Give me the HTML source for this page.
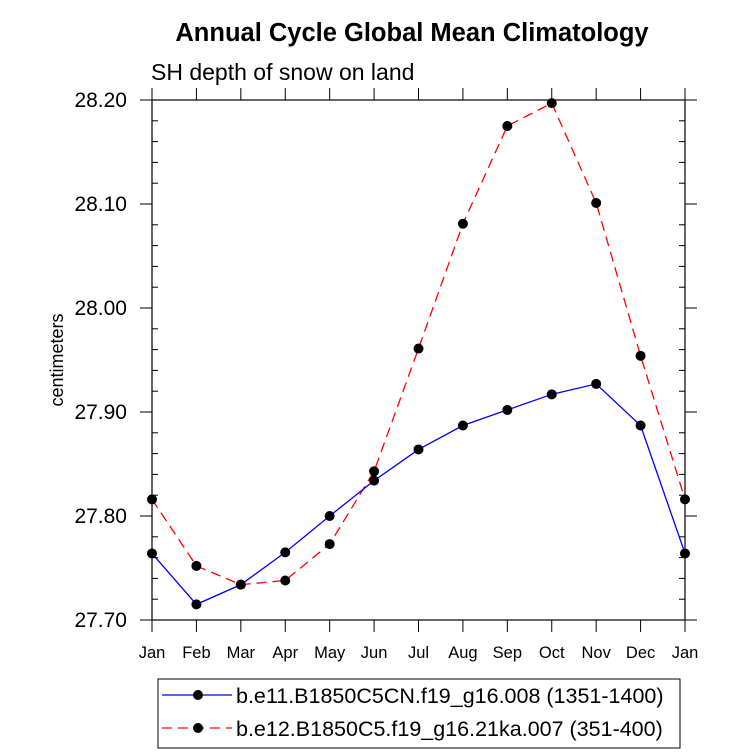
<!DOCTYPE html>
<html><head><meta charset="utf-8"><style>
body{margin:0;background:#fff}
svg{display:block;font-family:"Liberation Sans",sans-serif}
</style></head><body>
<svg id="c" width="733" height="754">
<text x="412" y="41" text-anchor="middle" font-size="25.5" font-weight="bold">Annual Cycle Global Mean Climatology</text>
<text x="151" y="80" font-size="23">SH depth of snow on land</text>
<text transform="translate(63,360) rotate(-90)" text-anchor="middle" font-size="18">centimeters</text>
<g id="ax"></g>
<g id="marks"></g>
<rect x="158" y="679" width="522" height="69" fill="none" stroke="#000" stroke-width="1"/>
<g>
<line x1="162" y1="695" x2="232" y2="695" stroke="#0000ff" stroke-width="1.3"/>
<circle cx="198" cy="695" r="5" fill="#000"/>
<text x="236" y="703" font-size="21.5">b.e11.B1850C5CN.f19_g16.008 (1351-1400)</text>
</g>
<g>
<line x1="162" y1="728" x2="232" y2="728" stroke="#ff0000" stroke-width="1.3" stroke-dasharray="10,6"/>
<circle cx="198" cy="728" r="5" fill="#000"/>
<text x="236" y="736" font-size="21.5">b.e12.B1850C5.f19_g16.21ka.007 (351-400)</text>
</g>
</svg>
<script>
const months=["Jan","Feb","Mar","Apr","May","Jun","Jul","Aug","Sep","Oct","Nov","Dec","Jan"];
const blueVals=[27.764,27.715,27.734,27.765,27.800,27.834,27.864,27.887,27.902,27.917,27.927,27.887,27.764];
const redVals=[27.816,27.752,27.734,27.738,27.773,27.843,27.961,28.081,28.175,28.197,28.101,27.954,27.816];
const yTicks=[27.70,27.80,27.90,28.00,28.10,28.20];
const L=152,R=685,T=100,B=620,Y0=27.70,Y1=28.20;
const xs=i=>L+(R-L)*i/12;
const ys=v=>B-(v-Y0)/(Y1-Y0)*(B-T);
const NS="http://www.w3.org/2000/svg";
function mk(p,t,a){const e=document.createElementNS(NS,t);for(const k in a)e.setAttribute(k,a[k]);p.appendChild(e);return e;}
const ax=document.getElementById('ax');
const fr=mk(ax,'rect',{x:L,y:T,width:R-L,height:B-T,fill:'none',stroke:'#000','stroke-width':1.2});


for(let k=0;k<=25;k++){const v=Y0+k*0.02,y=ys(v);
 if(k%5===0){mk(ax,'line',{x1:L-12,y1:y,x2:L,y2:y,stroke:'#000'});mk(ax,'line',{x1:R,y1:y,x2:R+12,y2:y,stroke:'#000'});}
 else{mk(ax,'line',{x1:L,y1:y,x2:L+6,y2:y,stroke:'#000'});mk(ax,'line',{x1:R-6,y1:y,x2:R,y2:y,stroke:'#000'});}}
yTicks.forEach(v=>{const t=mk(ax,'text',{x:127,y:ys(v)+7,'text-anchor':'end','font-size':21});t.textContent=v.toFixed(2);
 
 });
months.forEach((m,i)=>{const x=xs(i);
 mk(ax,'line',{x1:x,y1:B,x2:x,y2:B+12,stroke:'#000'});mk(ax,'line',{x1:x,y1:T-12,x2:x,y2:T,stroke:'#000'});
 const t=mk(ax,'text',{x:x,y:658,'text-anchor':'middle','font-size':16.5});t.textContent=m;
 
 });
const g=document.getElementById('marks');
function series(vals,col,dash,name){
 const pl=mk(g,'polyline',{points:vals.map((v,i)=>xs(i)+','+ys(v)).join(' '),fill:'none',stroke:col,'stroke-width':1.3});
 if(dash)pl.setAttribute('stroke-dasharray','10,6');
 
 
 vals.forEach((v,i)=>{const c=mk(g,'circle',{cx:xs(i),cy:ys(v),r:5,fill:'#000'});
  
  });
}
series(redVals,'#ff0000',true,'red-series');
series(blueVals,'#0000ff',false,'blue-series');
</script>
</body></html>
